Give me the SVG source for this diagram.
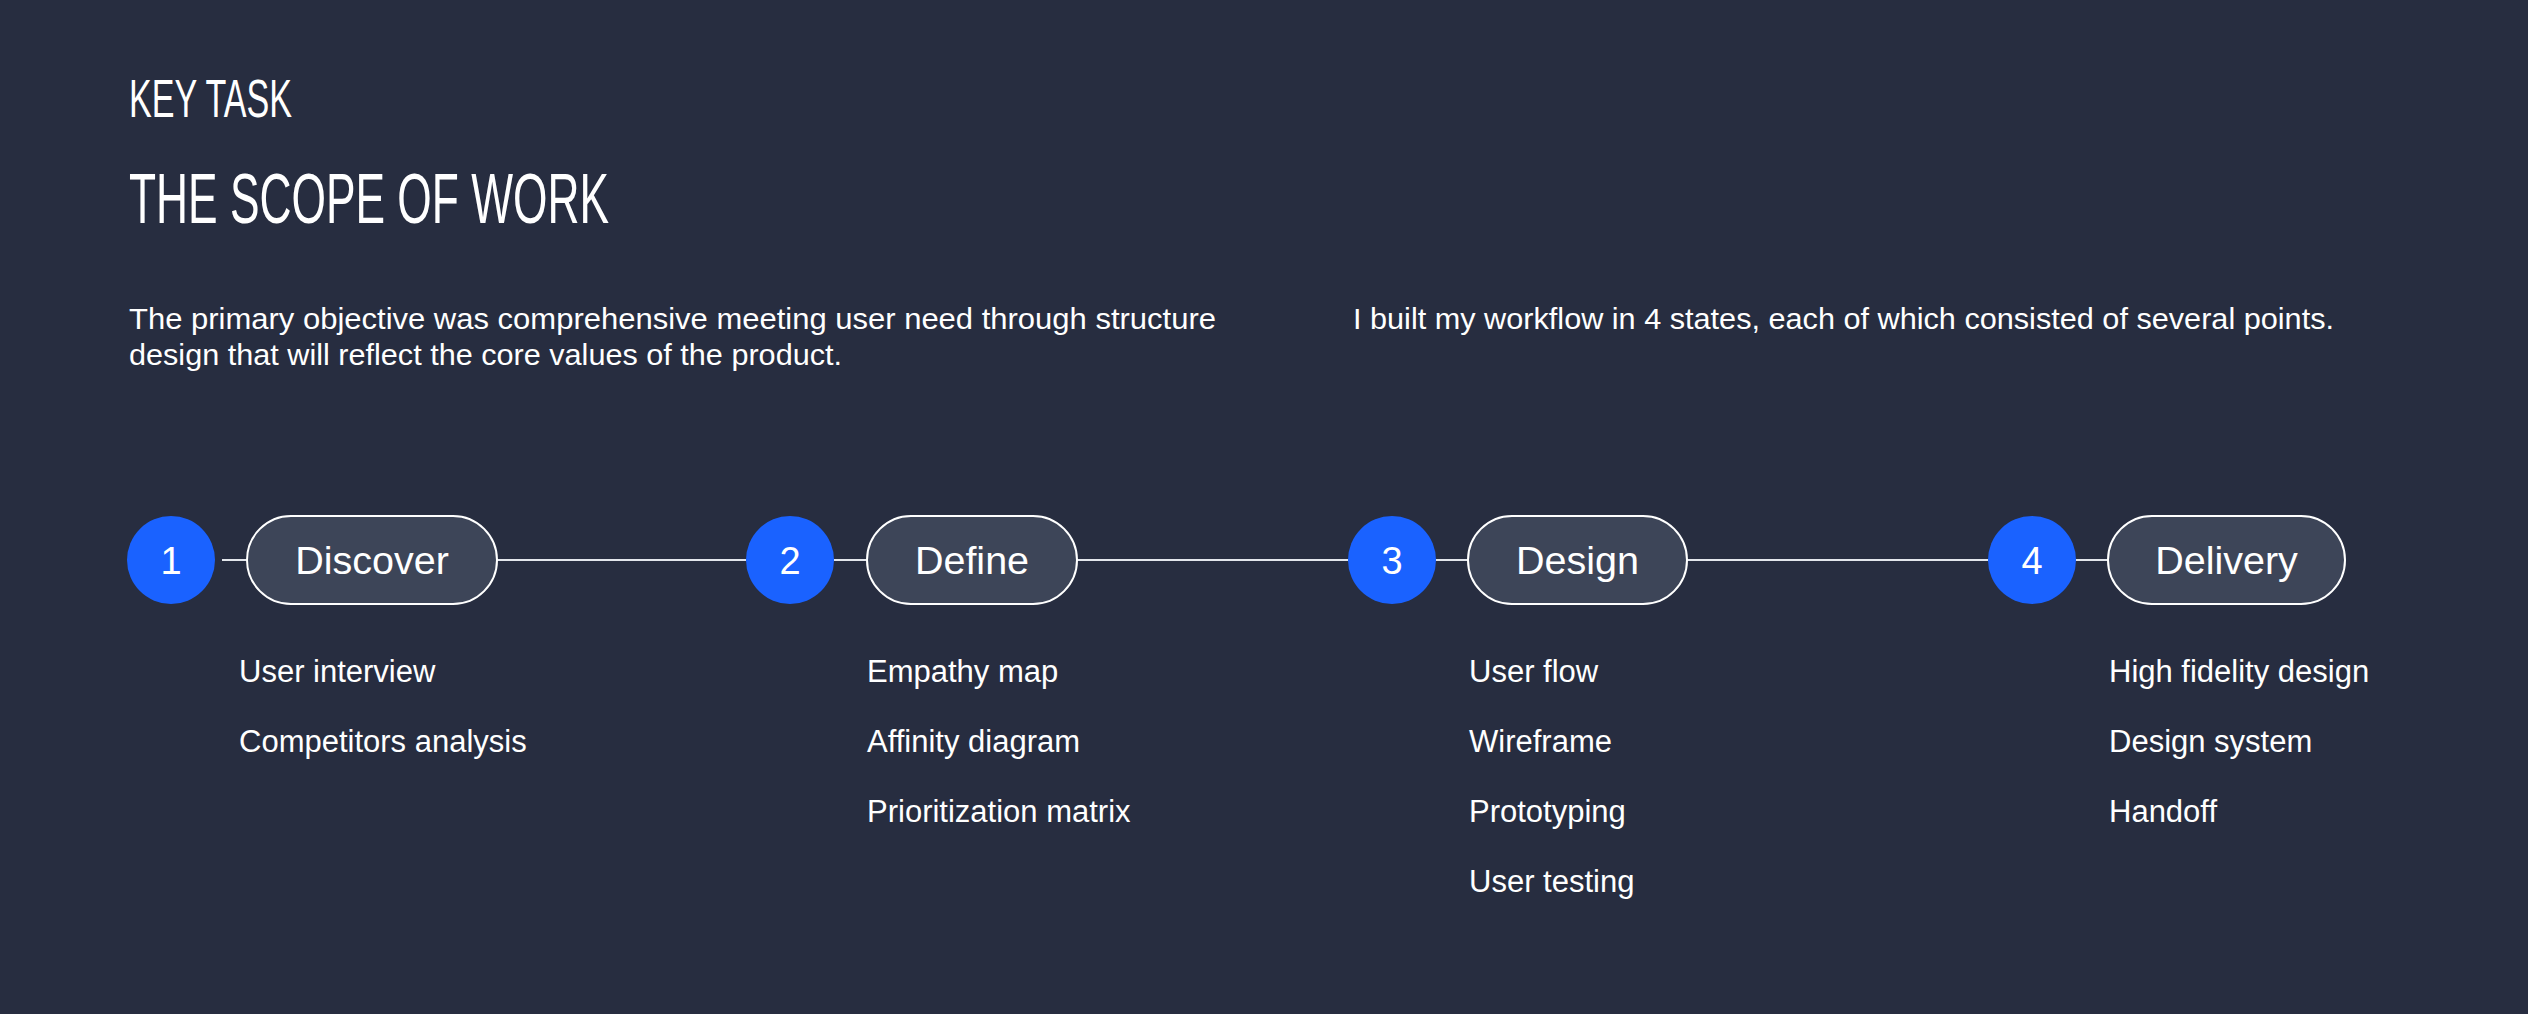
<svg xmlns="http://www.w3.org/2000/svg" width="2528" height="1014" viewBox="0 0 2528 1014">
  <style>
    .bg { fill: #272D40; }
    .title { font-family: "Liberation Sans Narrow", "Liberation Sans", "DejaVu Sans Condensed", sans-serif; fill: #FFFFFF; }
    .body { font-family: "Liberation Sans", Arial, sans-serif; font-size: 30px; fill: #FFFFFF; }
    .item { font-family: "Liberation Sans", Arial, sans-serif; font-size: 31px; fill: #FFFFFF; }
    .num { fill: #1A62FF; }
    .numtxt { font-family: "Liberation Sans", Arial, sans-serif; font-size: 38px; fill: #FFFFFF; text-anchor: middle; }
    .pill { fill: #3D4558; stroke: #FFFFFF; stroke-width: 2; }
    .pilltxt { font-family: "Liberation Sans", Arial, sans-serif; font-size: 39.5px; fill: #FFFFFF; text-anchor: middle; }
    .conn { stroke: #E3E6EC; stroke-width: 2; fill: none; }
  </style>
  <rect class="bg" x="0" y="0" width="2528" height="1014"/>

  <g id="header">
    <text class="title" x="129" y="117" font-size="54.5" textLength="163" lengthAdjust="spacingAndGlyphs">KEY TASK</text>
    <text class="title" x="129" y="223" font-size="71" textLength="480" lengthAdjust="spacingAndGlyphs">THE SCOPE OF WORK</text>
    <text class="body" x="129" y="329" textLength="1087" lengthAdjust="spacingAndGlyphs">The primary objective was comprehensive meeting user need through structure</text>
    <text class="body" x="129" y="365" textLength="713" lengthAdjust="spacingAndGlyphs">design that will reflect the core values of the product.</text>
    <text class="body" x="1353" y="329" textLength="981" lengthAdjust="spacingAndGlyphs">I built my workflow in 4 states, each of which consisted of several points.</text>
  </g>

  <g id="connectors">
    <line class="conn" x1="222" y1="560" x2="247" y2="560"/>
    <line class="conn" x1="497" y1="560" x2="746" y2="560"/>
    <line class="conn" x1="834" y1="560" x2="867" y2="560"/>
    <line class="conn" x1="1077" y1="560" x2="1348" y2="560"/>
    <line class="conn" x1="1436" y1="560" x2="1468" y2="560"/>
    <line class="conn" x1="1687" y1="560" x2="1988" y2="560"/>
    <line class="conn" x1="2076" y1="560" x2="2108" y2="560"/>
  </g>

  <g id="step1">
    <circle class="num" cx="171" cy="560" r="44"/>
    <text class="numtxt" x="171" y="574">1</text>
  </g>
  <g id="discover">
    <rect class="pill" x="247" y="516" width="250" height="88" rx="44" ry="44"/>
    <text class="pilltxt" x="372" y="574">Discover</text>
  </g>
  <g id="discover-items">
    <text class="item" x="239" y="682">User interview</text>
    <text class="item" x="239" y="752">Competitors analysis</text>
  </g>

  <g id="step2">
    <circle class="num" cx="790" cy="560" r="44"/>
    <text class="numtxt" x="790" y="574">2</text>
  </g>
  <g id="define">
    <rect class="pill" x="867" y="516" width="210" height="88" rx="44" ry="44"/>
    <text class="pilltxt" x="972" y="574">Define</text>
  </g>
  <g id="define-items">
    <text class="item" x="867" y="682">Empathy map</text>
    <text class="item" x="867" y="752">Affinity diagram</text>
    <text class="item" x="867" y="822">Prioritization matrix</text>
  </g>

  <g id="step3">
    <circle class="num" cx="1392" cy="560" r="44"/>
    <text class="numtxt" x="1392" y="574">3</text>
  </g>
  <g id="design">
    <rect class="pill" x="1468" y="516" width="219" height="88" rx="44" ry="44"/>
    <text class="pilltxt" x="1577.5" y="574">Design</text>
  </g>
  <g id="design-items">
    <text class="item" x="1469" y="682">User flow</text>
    <text class="item" x="1469" y="752">Wireframe</text>
    <text class="item" x="1469" y="822">Prototyping</text>
    <text class="item" x="1469" y="892">User testing</text>
  </g>

  <g id="step4">
    <circle class="num" cx="2032" cy="560" r="44"/>
    <text class="numtxt" x="2032" y="574">4</text>
  </g>
  <g id="delivery">
    <rect class="pill" x="2108" y="516" width="237" height="88" rx="44" ry="44"/>
    <text class="pilltxt" x="2226.5" y="574">Delivery</text>
  </g>
  <g id="delivery-items">
    <text class="item" x="2109" y="682">High fidelity design</text>
    <text class="item" x="2109" y="752">Design system</text>
    <text class="item" x="2109" y="822">Handoff</text>
  </g>
</svg>
